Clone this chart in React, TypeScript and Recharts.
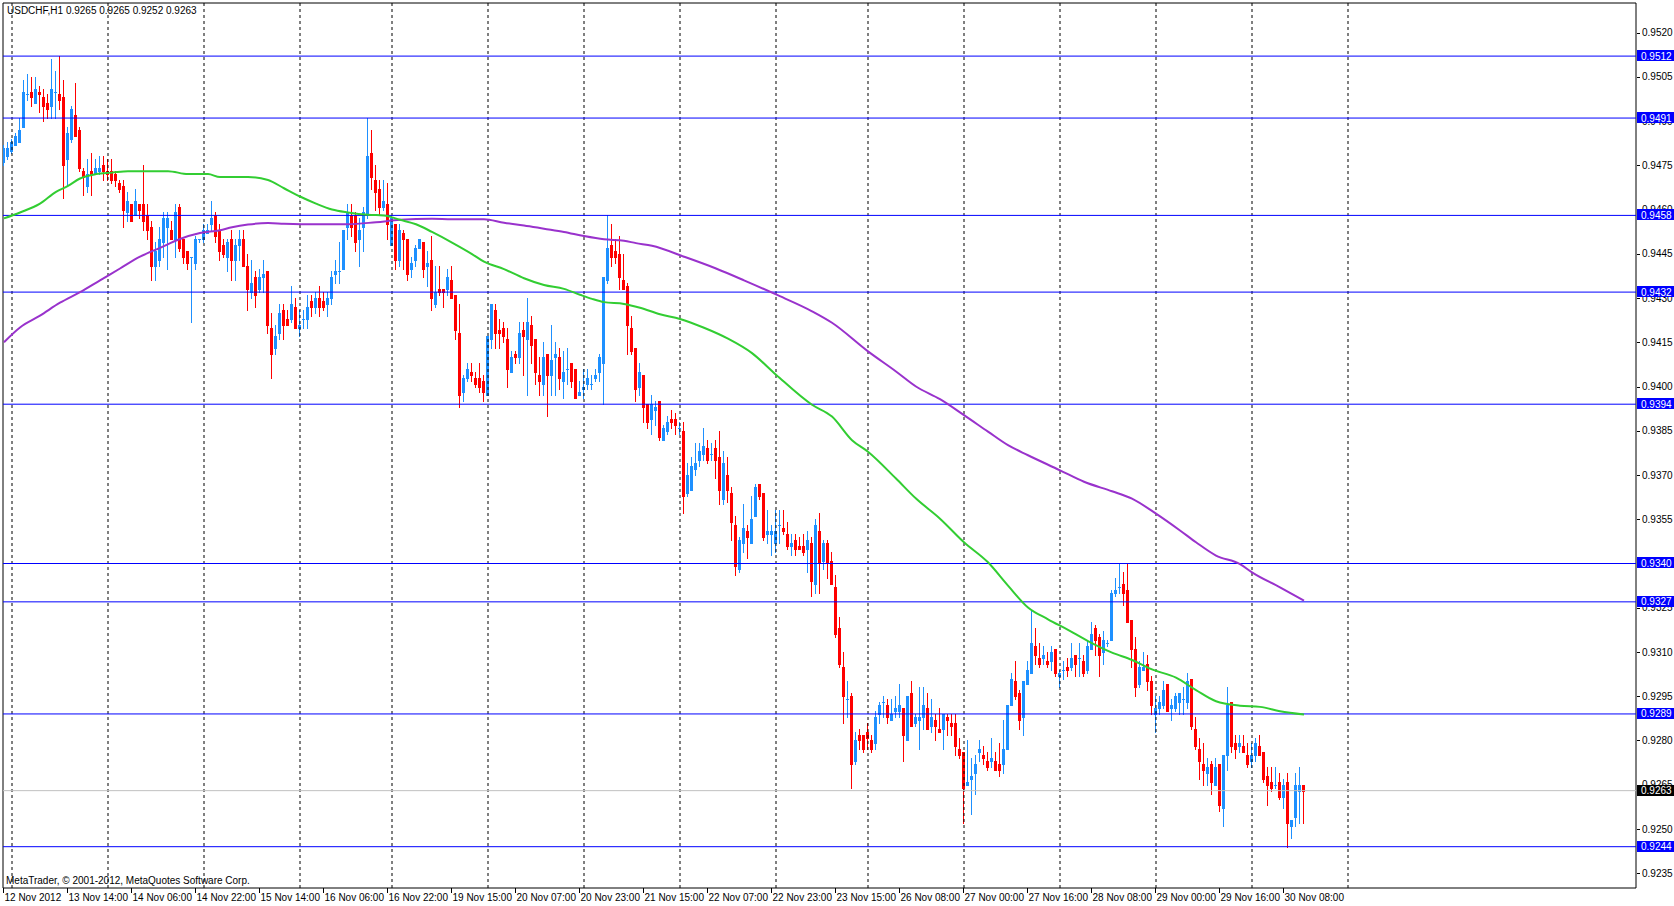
import React from "react";
import {
  Bar,
  ComposedChart,
  Line,
  ReferenceArea,
  ReferenceLine,
  XAxis,
  YAxis,
} from "recharts";

// USDCHF H1, bar 0 = 12 Nov 2012 22:00
const OPEN = [
  0.9476, 0.9478, 0.948, 0.9482, 0.9483, 0.9488, 0.9499, 0.95, 0.9496, 0.95, 0.9498, 0.9496, 0.9495, 0.95, 0.9499, 0.9498,
  0.9477, 0.9484, 0.9492, 0.9487, 0.9473, 0.9468, 0.9473, 0.9472, 0.9473, 0.9475, 0.9473, 0.9473, 0.9472, 0.9469, 0.9468, 0.9459,
  0.9462, 0.9458, 0.9462, 0.9462, 0.9458, 0.9454, 0.9441, 0.9443, 0.9449, 0.9454, 0.9453, 0.945, 0.9461, 0.945, 0.9446, 0.9444,
  0.9442, 0.945, 0.945, 0.9452, 0.9455, 0.9458, 0.9453, 0.9448, 0.9444, 0.945, 0.9443, 0.9448, 0.945, 0.9441, 0.9432, 0.9437,
  0.9433, 0.9437, 0.9439, 0.942, 0.9413, 0.9418, 0.9426, 0.9423, 0.9423, 0.9427, 0.942, 0.9423, 0.9423, 0.9429, 0.9427, 0.943,
  0.9429, 0.9428, 0.943, 0.9438, 0.9439, 0.944, 0.9454, 0.9458, 0.9458, 0.945, 0.9454, 0.9458, 0.9479, 0.947, 0.9467, 0.9461,
  0.9462, 0.9448, 0.9455, 0.9443, 0.9452, 0.945, 0.944, 0.9443, 0.9447, 0.9449, 0.9441, 0.9443, 0.9428, 0.9433, 0.9433, 0.9433,
  0.9436, 0.9431, 0.9418, 0.9398, 0.9403, 0.9405, 0.9403, 0.9403, 0.9402, 0.9397, 0.9416, 0.9426, 0.9419, 0.942, 0.9416, 0.9405,
  0.9411, 0.941, 0.9419, 0.9416, 0.9421, 0.9416, 0.9404, 0.9401, 0.9411, 0.9404, 0.941, 0.941, 0.9402, 0.9406, 0.9408, 0.9406,
  0.9397, 0.9399, 0.9401, 0.9401, 0.9403, 0.9405, 0.9408, 0.9436, 0.9448, 0.9446, 0.9445, 0.9436, 0.9434, 0.942, 0.9413, 0.94,
  0.9404, 0.9394, 0.9389, 0.9392, 0.9395, 0.9382, 0.9385, 0.9389, 0.9389, 0.9386, 0.9385, 0.9364, 0.9365, 0.9372, 0.9375, 0.9377,
  0.9379, 0.9377, 0.9379, 0.9376, 0.9362, 0.937, 0.9364, 0.9353, 0.9338, 0.9347, 0.9351, 0.9347, 0.9356, 0.9367, 0.9364, 0.935,
  0.935, 0.9347, 0.9353, 0.9352, 0.935, 0.9346, 0.9348, 0.9346, 0.9346, 0.9345, 0.9347, 0.9333, 0.9351, 0.9341, 0.9347, 0.9341,
  0.9332, 0.9318, 0.9305, 0.9294, 0.9295, 0.9273, 0.9282, 0.9282, 0.9283, 0.928, 0.9279, 0.9289, 0.9293, 0.9292, 0.9287, 0.929,
  0.929, 0.9291, 0.928, 0.9296, 0.9286, 0.9287, 0.9288, 0.9291, 0.9285, 0.9287, 0.9284, 0.9284, 0.9288, 0.9286, 0.9286, 0.9277,
  0.9276, 0.9265, 0.9267, 0.9269, 0.9276, 0.9275, 0.9273, 0.9273, 0.9273, 0.9272, 0.9272, 0.9277, 0.9292, 0.93, 0.9296, 0.9288,
  0.9299, 0.9303, 0.9312, 0.9308, 0.9308, 0.9307, 0.9307, 0.9311, 0.9302, 0.9304, 0.9305, 0.9305, 0.9309, 0.9308, 0.9307, 0.9304,
  0.9311, 0.9318, 0.9315, 0.931, 0.9313, 0.9314, 0.933, 0.9332, 0.9333, 0.9331, 0.9321, 0.9311, 0.9299, 0.9304, 0.9306, 0.93,
  0.9289, 0.9291, 0.9292, 0.9299, 0.9291, 0.9291, 0.9293, 0.9294, 0.9293, 0.9301, 0.9284, 0.9277, 0.9272, 0.9269, 0.9272, 0.9265,
  0.9272, 0.9257, 0.9275, 0.9293, 0.9279, 0.9278, 0.9278, 0.9275, 0.9273, 0.9275, 0.9278, 0.9276, 0.9268, 0.9266, 0.9265, 0.9266,
  0.9261, 0.9266, 0.9251, 0.9254, 0.9263, 0.9265,
];

const HIGH = [
  0.9482, 0.9483, 0.9484, 0.9486, 0.9491, 0.9504, 0.9506, 0.9505, 0.9505, 0.9502, 0.9501, 0.9499, 0.9511, 0.9507, 0.9512, 0.9504,
  0.9488, 0.9495, 0.9503, 0.9488, 0.9474, 0.9477, 0.9479, 0.9477, 0.9478, 0.9478, 0.9477, 0.9477, 0.9473, 0.947, 0.947, 0.9466,
  0.9462, 0.9467, 0.9462, 0.9475, 0.9462, 0.9456, 0.9449, 0.9454, 0.9459, 0.9459, 0.9456, 0.9462, 0.9462, 0.945, 0.9446, 0.9444,
  0.9451, 0.945, 0.9455, 0.9455, 0.9463, 0.9459, 0.9455, 0.945, 0.945, 0.9453, 0.945, 0.9453, 0.9453, 0.9445, 0.9443, 0.9439,
  0.944, 0.9443, 0.9439, 0.9425, 0.9421, 0.9428, 0.9428, 0.9426, 0.9434, 0.943, 0.9426, 0.9426, 0.9431, 0.9431, 0.9432, 0.9434,
  0.9432, 0.9432, 0.9439, 0.9443, 0.9449, 0.9453, 0.9462, 0.9462, 0.9459, 0.9457, 0.9461, 0.9491, 0.9487, 0.9475, 0.947, 0.947,
  0.9469, 0.9458, 0.9455, 0.9455, 0.9453, 0.945, 0.9444, 0.9448, 0.945, 0.9449, 0.9446, 0.9451, 0.9441, 0.9441, 0.9433, 0.944,
  0.9441, 0.9431, 0.9428, 0.9404, 0.9408, 0.9408, 0.9405, 0.9408, 0.9404, 0.9417, 0.9428, 0.9428, 0.9423, 0.9422, 0.942, 0.9412,
  0.9412, 0.9422, 0.9422, 0.943, 0.9424, 0.9416, 0.941, 0.9415, 0.9411, 0.9421, 0.9415, 0.9413, 0.9412, 0.9413, 0.9408, 0.9406,
  0.9402, 0.9406, 0.9406, 0.9404, 0.9406, 0.9411, 0.9437, 0.9458, 0.9455, 0.945, 0.9451, 0.9445, 0.9435, 0.9424, 0.9413, 0.9408,
  0.9404, 0.9394, 0.9397, 0.9395, 0.9395, 0.9387, 0.939, 0.9392, 0.9391, 0.9388, 0.9388, 0.9374, 0.9376, 0.9381, 0.9381, 0.9386,
  0.9382, 0.9381, 0.9382, 0.9385, 0.9378, 0.9376, 0.9366, 0.9356, 0.9349, 0.936, 0.9353, 0.9363, 0.9367, 0.9367, 0.9364, 0.9358,
  0.9353, 0.9358, 0.9358, 0.9358, 0.9354, 0.935, 0.935, 0.9349, 0.935, 0.9351, 0.9349, 0.9355, 0.9357, 0.9348, 0.9348, 0.9344,
  0.9336, 0.9322, 0.931, 0.93, 0.9296, 0.9283, 0.9284, 0.9282, 0.9286, 0.9282, 0.929, 0.9293, 0.9295, 0.9294, 0.9294, 0.9295,
  0.9299, 0.9291, 0.9295, 0.93, 0.9289, 0.9298, 0.9298, 0.9296, 0.9294, 0.9289, 0.9291, 0.9289, 0.9289, 0.9289, 0.9289, 0.9281,
  0.9276, 0.928, 0.9274, 0.9275, 0.928, 0.9278, 0.9276, 0.9281, 0.9276, 0.9279, 0.9287, 0.9292, 0.9303, 0.9307, 0.9297, 0.93,
  0.9307, 0.9324, 0.9318, 0.9313, 0.9312, 0.931, 0.9312, 0.9311, 0.9304, 0.9307, 0.9308, 0.9313, 0.9309, 0.9313, 0.9309, 0.9314,
  0.932, 0.9319, 0.9316, 0.9317, 0.9314, 0.9331, 0.9335, 0.934, 0.9337, 0.934, 0.9321, 0.9315, 0.9307, 0.931, 0.9309, 0.9302,
  0.9295, 0.9295, 0.93, 0.9299, 0.9294, 0.9296, 0.9296, 0.9298, 0.9303, 0.9301, 0.9288, 0.9281, 0.9279, 0.9274, 0.9273, 0.9274,
  0.9272, 0.9275, 0.9298, 0.9293, 0.9282, 0.9282, 0.9282, 0.9279, 0.9279, 0.9281, 0.9282, 0.9276, 0.9271, 0.9271, 0.9271, 0.9269,
  0.9267, 0.9269, 0.9253, 0.9269, 0.9271, 0.9265,
];

const LOW = [
  0.9475, 0.9477, 0.9479, 0.9482, 0.9483, 0.9488, 0.9497, 0.9495, 0.9496, 0.9493, 0.949, 0.9491, 0.9491, 0.9491, 0.9494, 0.9464,
  0.9468, 0.9483, 0.9485, 0.9473, 0.9465, 0.9466, 0.9465, 0.9472, 0.9472, 0.947, 0.947, 0.9469, 0.9468, 0.9466, 0.9454, 0.9456,
  0.9456, 0.9458, 0.9457, 0.9453, 0.945, 0.9436, 0.9436, 0.9441, 0.9444, 0.944, 0.945, 0.9444, 0.9446, 0.9442, 0.944, 0.9422,
  0.944, 0.9449, 0.9449, 0.9452, 0.9453, 0.9449, 0.9443, 0.9444, 0.9439, 0.9436, 0.9436, 0.9443, 0.9441, 0.9426, 0.943, 0.9427,
  0.9432, 0.9432, 0.9418, 0.9403, 0.9411, 0.9416, 0.9416, 0.9421, 0.9422, 0.942, 0.9417, 0.942, 0.942, 0.9424, 0.9425, 0.9424,
  0.9426, 0.9424, 0.9428, 0.9435, 0.9435, 0.944, 0.945, 0.9451, 0.9446, 0.9441, 0.9446, 0.9457, 0.9467, 0.946, 0.9458, 0.946,
  0.945, 0.9448, 0.944, 0.9441, 0.944, 0.9436, 0.9437, 0.9441, 0.9447, 0.9437, 0.9434, 0.9426, 0.9427, 0.9431, 0.9427, 0.9431,
  0.943, 0.9416, 0.9393, 0.9395, 0.9402, 0.9402, 0.94, 0.9398, 0.9395, 0.9397, 0.9413, 0.9413, 0.9413, 0.9415, 0.94, 0.9405,
  0.9408, 0.9408, 0.9404, 0.9397, 0.9408, 0.9401, 0.9397, 0.9397, 0.939, 0.9397, 0.9397, 0.9399, 0.9396, 0.9401, 0.94, 0.9396,
  0.9397, 0.9396, 0.9399, 0.9399, 0.9402, 0.9402, 0.9394, 0.9435, 0.9441, 0.9442, 0.9433, 0.9433, 0.9411, 0.9411, 0.9395, 0.9397,
  0.9388, 0.9386, 0.9384, 0.9387, 0.9382, 0.9382, 0.9384, 0.9386, 0.9384, 0.9384, 0.9357, 0.9363, 0.9365, 0.937, 0.9373, 0.9375,
  0.9374, 0.9375, 0.9369, 0.936, 0.936, 0.9361, 0.9348, 0.9336, 0.9337, 0.9344, 0.9342, 0.9347, 0.9356, 0.9362, 0.9348, 0.9347,
  0.9343, 0.9344, 0.9347, 0.935, 0.9345, 0.9343, 0.9343, 0.9345, 0.9343, 0.9337, 0.9329, 0.933, 0.933, 0.9338, 0.9335, 0.9333,
  0.9315, 0.9305, 0.9286, 0.9288, 0.9264, 0.9272, 0.9277, 0.9276, 0.9277, 0.9276, 0.9277, 0.9286, 0.9288, 0.9286, 0.9287, 0.9288,
  0.9288, 0.9273, 0.928, 0.9285, 0.9285, 0.9277, 0.9284, 0.9284, 0.9283, 0.928, 0.9283, 0.9277, 0.9282, 0.9282, 0.9275, 0.9274,
  0.9252, 0.9265, 0.9255, 0.9262, 0.9273, 0.9272, 0.927, 0.9271, 0.927, 0.9268, 0.9269, 0.9277, 0.9292, 0.9294, 0.9284, 0.9282,
  0.9299, 0.9303, 0.9306, 0.9305, 0.9306, 0.9305, 0.9304, 0.9302, 0.9298, 0.9301, 0.9302, 0.9304, 0.9302, 0.9302, 0.9302, 0.9303,
  0.9311, 0.9309, 0.9302, 0.9306, 0.9312, 0.9314, 0.9329, 0.933, 0.9326, 0.932, 0.9305, 0.9295, 0.9298, 0.9304, 0.9297, 0.9289,
  0.9283, 0.9289, 0.9291, 0.929, 0.9287, 0.929, 0.9289, 0.9289, 0.9291, 0.9284, 0.9277, 0.9267, 0.9265, 0.9265, 0.9262, 0.9265,
  0.9256, 0.9251, 0.927, 0.9276, 0.9274, 0.9276, 0.9276, 0.9271, 0.9271, 0.9273, 0.9275, 0.9266, 0.9258, 0.9263, 0.9264, 0.926,
  0.9257, 0.9244, 0.9247, 0.9251, 0.9252, 0.9252,
];

const CLOSE = [
  0.9481, 0.9481, 0.9483, 0.9485, 0.9487, 0.95, 0.9499, 0.9498, 0.9501, 0.9499, 0.9495, 0.9494, 0.9501, 0.95, 0.9497, 0.9475,
  0.9486, 0.9494, 0.9485, 0.9474, 0.9471, 0.9472, 0.9472, 0.9474, 0.9474, 0.9473, 0.9472, 0.947, 0.947, 0.9467, 0.946, 0.9463,
  0.9456, 0.9463, 0.946, 0.9456, 0.9453, 0.9441, 0.9446, 0.945, 0.9457, 0.9457, 0.945, 0.9459, 0.9447, 0.9444, 0.9442, 0.9444,
  0.945, 0.945, 0.9453, 0.9453, 0.9457, 0.9451, 0.9446, 0.9445, 0.9449, 0.9443, 0.9448, 0.945, 0.9441, 0.9433, 0.9435, 0.9431,
  0.9437, 0.9438, 0.9421, 0.9411, 0.9417, 0.9425, 0.9421, 0.9421, 0.9428, 0.942, 0.9421, 0.9423, 0.9427, 0.9427, 0.943, 0.9427,
  0.9427, 0.943, 0.9437, 0.9439, 0.9439, 0.9453, 0.9459, 0.9454, 0.9449, 0.9453, 0.9459, 0.9478, 0.9471, 0.9466, 0.9461, 0.9463,
  0.9455, 0.9457, 0.9443, 0.9453, 0.945, 0.9438, 0.9442, 0.9447, 0.945, 0.944, 0.9442, 0.943, 0.9432, 0.9432, 0.9432, 0.9437,
  0.943, 0.9419, 0.9397, 0.9403, 0.9406, 0.9404, 0.9401, 0.94, 0.9398, 0.9417, 0.9428, 0.9418, 0.9418, 0.9417, 0.9406, 0.941,
  0.941, 0.9418, 0.9417, 0.9422, 0.9414, 0.9405, 0.9402, 0.941, 0.9404, 0.9409, 0.9411, 0.9403, 0.9405, 0.9406, 0.9402, 0.9396,
  0.9398, 0.94, 0.9403, 0.9401, 0.9404, 0.941, 0.9437, 0.9447, 0.9444, 0.9444, 0.9437, 0.9433, 0.9421, 0.9412, 0.9399, 0.9405,
  0.9393, 0.9388, 0.9394, 0.9393, 0.9383, 0.9386, 0.9388, 0.9388, 0.9387, 0.9386, 0.9363, 0.937, 0.9373, 0.9374, 0.9378, 0.938,
  0.9375, 0.9377, 0.9375, 0.9365, 0.9374, 0.9365, 0.9354, 0.9339, 0.9348, 0.9352, 0.9349, 0.9355, 0.9366, 0.9363, 0.9349, 0.9351,
  0.9351, 0.9351, 0.9353, 0.9351, 0.9346, 0.9347, 0.9345, 0.9345, 0.9344, 0.9348, 0.9334, 0.9353, 0.934, 0.9347, 0.934, 0.9333,
  0.9316, 0.9306, 0.9295, 0.9294, 0.9272, 0.928, 0.928, 0.9277, 0.9281, 0.9277, 0.9288, 0.9292, 0.9293, 0.9288, 0.9289, 0.9291,
  0.9292, 0.9282, 0.9295, 0.9285, 0.9288, 0.9288, 0.9292, 0.9284, 0.9288, 0.9285, 0.9283, 0.9289, 0.9287, 0.9285, 0.9278, 0.9275,
  0.9264, 0.9266, 0.9268, 0.9272, 0.9277, 0.9274, 0.9271, 0.9274, 0.927, 0.927, 0.9277, 0.9292, 0.9301, 0.9295, 0.9287, 0.93,
  0.9304, 0.9313, 0.9309, 0.9306, 0.9309, 0.9306, 0.931, 0.9303, 0.9303, 0.9304, 0.9304, 0.9308, 0.9306, 0.9308, 0.9303, 0.9312,
  0.9316, 0.9314, 0.9309, 0.9314, 0.9313, 0.933, 0.9331, 0.9332, 0.933, 0.932, 0.9311, 0.9298, 0.9305, 0.9305, 0.93, 0.9292,
  0.9291, 0.9293, 0.9297, 0.929, 0.9292, 0.9295, 0.9296, 0.9294, 0.93, 0.9285, 0.9278, 0.9273, 0.927, 0.9271, 0.9266, 0.9271,
  0.9258, 0.9275, 0.9292, 0.9278, 0.9277, 0.9279, 0.9276, 0.9272, 0.9275, 0.9279, 0.9275, 0.9267, 0.9265, 0.9264, 0.9265, 0.9261,
  0.9265, 0.9252, 0.9253, 0.9265, 0.9265, 0.9263,
];

// moving averages: [bar index, value]
const MA_FAST: [number, number][] = [
  [0, 0.9457], [4, 0.9459], [9, 0.9462], [13, 0.9466], [16, 0.9468], [19, 0.94705], [23, 0.9472], [27, 0.94725],
  [31, 0.9473], [35, 0.9473], [41, 0.9473], [46, 0.9472], [51, 0.9472], [54, 0.9471], [61, 0.9471], [66, 0.947],
  [70, 0.94672], [74, 0.94644], [78, 0.9462], [82, 0.946], [86, 0.9459], [91, 0.94582], [95, 0.9458], [99, 0.94565],
  [103, 0.9455], [107, 0.94524], [112, 0.94488], [117, 0.94449], [120, 0.94423], [125, 0.94398], [130, 0.94367],
  [135, 0.94344], [140, 0.94331], [144, 0.94311], [147, 0.94297], [150, 0.94286], [155, 0.9428], [159, 0.94267],
  [164, 0.94245], [169, 0.94229], [175, 0.94199], [181, 0.94162], [187, 0.94113], [193, 0.9404], [202, 0.93938],
  [207, 0.93898], [212, 0.93818], [216, 0.93779], [223, 0.93688], [228, 0.9362], [234, 0.93552], [240, 0.93472],
  [246, 0.93404], [251, 0.93325], [256, 0.93251], [261, 0.93211], [266, 0.93175], [271, 0.93137], [277, 0.93098],
  [282, 0.93073], [287, 0.93041], [293, 0.93013], [298, 0.92971], [303, 0.92933], [309, 0.92918], [314, 0.92914],
  [319, 0.92899], [325, 0.92888],
];

const MA_SLOW: [number, number][] = [
  [0, 0.9415], [4, 0.942], [9, 0.9424], [14, 0.94284], [19, 0.9432], [24, 0.9436], [29, 0.944], [34, 0.9444],
  [39, 0.9447], [44, 0.945], [49, 0.9452], [54, 0.9453], [57, 0.9454], [61, 0.94549], [66, 0.94554], [70, 0.94552],
  [78, 0.9455], [86, 0.9455], [93, 0.94557], [99, 0.94565], [107, 0.94569], [112, 0.94567], [120, 0.94567],
  [125, 0.94555], [130, 0.94546], [135, 0.94535], [140, 0.94524], [145, 0.9451], [150, 0.94499], [155, 0.94494],
  [158, 0.94486], [162, 0.94477], [170, 0.9444], [178, 0.944], [185, 0.9436], [193, 0.94312], [202, 0.94255],
  [207, 0.94216], [216, 0.94119], [223, 0.94051], [228, 0.94], [234, 0.93957], [240, 0.93903], [246, 0.93847],
  [251, 0.93801], [256, 0.93767], [264, 0.93716], [270, 0.93677], [277, 0.93645], [282, 0.9362], [288, 0.93569],
  [294, 0.93512], [298, 0.93472], [303, 0.93427], [309, 0.93398], [312, 0.9337], [319, 0.93319], [325, 0.93274],
];

const LEVELS = [0.9512, 0.9491, 0.9458, 0.9432, 0.9394, 0.934, 0.9327, 0.9289, 0.9244];
const LAST_PRICE = 0.9263;

// first bar of each trading day
const DAY_STARTS = [2, 26, 50, 74, 97, 121, 145, 169, 193, 216, 240, 264, 288, 312, 336];

// one label every 16 bars
const TIME_LABELS = [
  "12 Nov 2012", "13 Nov 14:00", "14 Nov 06:00", "14 Nov 22:00", "15 Nov 14:00", "16 Nov 06:00", "16 Nov 22:00",
  "19 Nov 15:00", "20 Nov 07:00", "20 Nov 23:00", "21 Nov 15:00", "22 Nov 07:00", "22 Nov 23:00", "23 Nov 15:00",
  "26 Nov 08:00", "27 Nov 00:00", "27 Nov 16:00", "28 Nov 08:00", "29 Nov 00:00", "29 Nov 16:00", "30 Nov 08:00",
];

const PRICE_TICKS = [
  0.952, 0.9505, 0.949, 0.9475, 0.946, 0.9445, 0.943, 0.9415, 0.94, 0.9385, 0.937, 0.9355, 0.934, 0.9325, 0.931,
  0.9295, 0.928, 0.9265, 0.925, 0.9235,
];

const W = 1674;
const H = 906;
const FONT = "'Liberation Sans', Arial, sans-serif";
const UP = "#1E90FF";
const DOWN = "#FF0000";
const LEVEL_BLUE = "#0000FF";

const fastMap = new Map(MA_FAST);
const slowMap = new Map(MA_SLOW);

const data = OPEN.map((o, i) => ({
  i,
  o,
  h: HIGH[i],
  l: LOW[i],
  c: CLOSE[i],
  range: [LOW[i], HIGH[i]],
  fast: fastMap.has(i) ? fastMap.get(i) : null,
  slow: slowMap.has(i) ? slowMap.get(i) : null,
}));

// plain ticks first, tags last so the tags sit on top of the tick text
const AXIS_TICKS = [...PRICE_TICKS, ...LEVELS, LAST_PRICE];

function Candle(props: any) {
  const { x, y, width, height, payload } = props;
  if (!payload || x == null) return null;
  const { o, h, l, c } = payload;
  const cx = Math.round(x + width / 2) - 1;
  const py = (v: number) => (h === l ? y : y + ((h - v) / (h - l)) * height);
  const color = c >= o ? UP : DOWN;
  const top = Math.round(py(Math.max(o, c)));
  const bot = Math.round(py(Math.min(o, c)));
  const wt = Math.round(y);
  const wb = Math.round(y + height);
  return (
    <g shapeRendering="crispEdges">
      <rect x={cx} y={wt} width={1} height={Math.max(1, wb - wt + 1)} fill={color} />
      <rect x={cx - 1} y={top} width={3} height={Math.max(1, bot - top + 1)} fill={color} />
    </g>
  );
}

function TimeTick(props: any) {
  const { x, y, payload } = props;
  const label = TIME_LABELS[Math.round(payload.value / 16)];
  return (
    <g>
      <rect x={Math.round(x) - 1} y={y} width={1} height={5} fill="#000" shapeRendering="crispEdges" />
      <text x={x + 0.5} y={y + 13} fontSize={10} fontFamily={FONT} fill="#000">
        {label}
      </text>
    </g>
  );
}

function PriceTick(props: any) {
  const { x, y, payload } = props;
  const v = payload.value;
  const isLast = v === LAST_PRICE;
  const isLevel = LEVELS.includes(v);
  if (isLast || isLevel) {
    return (
      <g>
        <rect
          x={x + 1}
          y={Math.round(y) - 6}
          width={38}
          height={11}
          fill={isLast ? "#000" : LEVEL_BLUE}
          shapeRendering="crispEdges"
        />
        <text x={x + 5} y={y + 3.5} fontSize={10} fontFamily={FONT} fill="#fff">
          {v.toFixed(4)}
        </text>
      </g>
    );
  }
  return (
    <g>
      <rect x={x + 1} y={Math.round(y)} width={3} height={1} fill="#000" shapeRendering="crispEdges" />
      <text x={x + 6} y={y + 3.5} fontSize={10} fontFamily={FONT} fill="#000">
        {v.toFixed(4)}
      </text>
    </g>
  );
}

export default function App() {
  return (
    <div style={{ position: "relative", width: W, height: H, background: "#fff" }}>
      <style>{"body{margin:0;background:#fff}"}</style>
      <ComposedChart width={W} height={H} data={data} margin={{ top: 3, right: 0, bottom: 0, left: 3 }}>
        <XAxis
          dataKey="i"
          type="number"
          domain={[-0.25, 408]}
          allowDataOverflow
          ticks={TIME_LABELS.map((_, k) => k * 16)}
          interval={0}
          height={18}
          axisLine={false}
          tickLine={false}
          tickSize={0}
          tickMargin={0}
          tick={<TimeTick />}
        />
        <YAxis
          orientation="right"
          type="number"
          domain={[0.923, 0.953]}
          allowDataOverflow
          ticks={AXIS_TICKS}
          interval={0}
          width={38}
          axisLine={false}
          tickLine={false}
          tickSize={0}
          tickMargin={0}
          tick={<PriceTick />}
        />
        {DAY_STARTS.map((d) => (
          <ReferenceLine key={"d" + d} x={d} stroke="#000" strokeDasharray="3 3" />
        ))}
        <ReferenceLine y={LAST_PRICE} stroke="#C0C0C0" />
        {LEVELS.map((lv) => (
          <ReferenceLine key={"l" + lv} y={lv} stroke={LEVEL_BLUE} />
        ))}
        <Bar dataKey="range" barSize={3} isAnimationActive={false} shape={(p: any) => <Candle {...p} />} />
        <Line
          dataKey="slow"
          type="monotone"
          stroke="#9932CC"
          strokeWidth={2}
          dot={false}
          connectNulls
          isAnimationActive={false}
        />
        <Line
          dataKey="fast"
          type="monotone"
          stroke="#32CD32"
          strokeWidth={2}
          dot={false}
          connectNulls
          isAnimationActive={false}
        />
        <ReferenceArea
          x1={-0.25}
          x2={408}
          y1={0.923}
          y2={0.953}
          fill="none"
          fillOpacity={0}
          stroke="#000"
          strokeWidth={1}
        />
      </ComposedChart>
      <svg width={W} height={H} style={{ position: "absolute", left: 0, top: 0, pointerEvents: "none" }}>
        <text x={7} y={14} fontSize={10} fontFamily={FONT} fill="#000">
          USDCHF,H1  0.9265 0.9265 0.9252 0.9263
        </text>
        <text x={6} y={884} fontSize={10} fontFamily={FONT} fill="#000">
          MetaTrader, © 2001-2012, MetaQuotes Software Corp.
        </text>
      </svg>
    </div>
  );
}
